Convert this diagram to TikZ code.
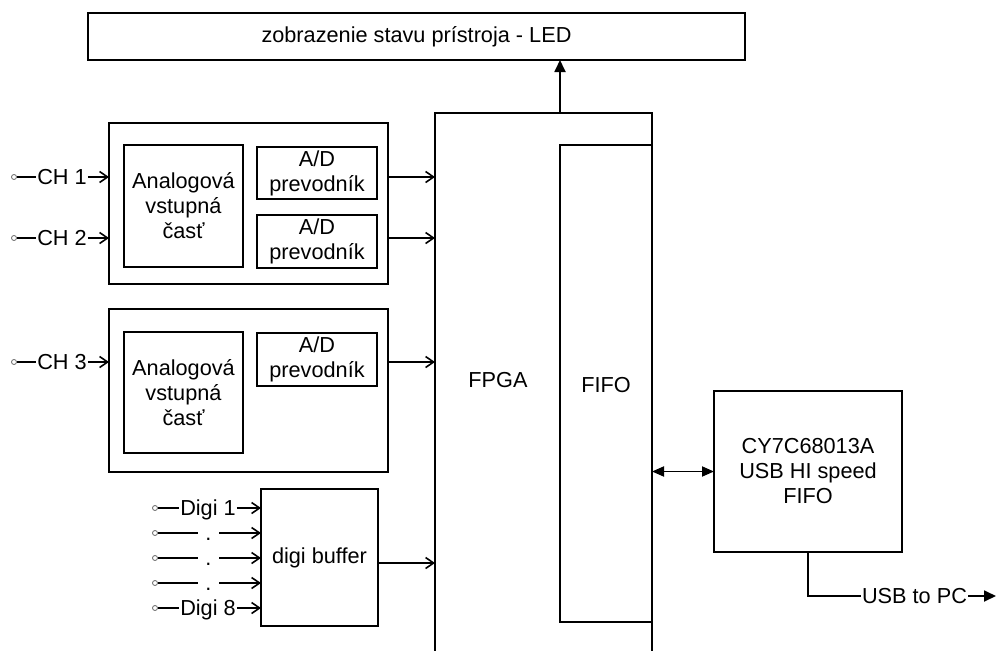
\documentclass[tikz,border=0pt]{standalone}
\usepackage{fontspec}
\setmainfont{Liberation Sans}
\usepackage{tikz}
\usetikzlibrary{arrows.meta, positioning}
\newcommand{\diafont}{\fontsize{21.7}{25}\selectfont}
\tikzset{
  box/.style={rectangle, draw=black, line width=2pt, inner sep=0pt,
    outer sep=0pt, align=center, font=\diafont},
  term/.style={circle, draw=black!60, fill=white, line width=0.8pt,
    inner sep=0pt, minimum size=5pt},
  txt/.style={inner sep=1pt, font=\diafont, text height=15.5pt, text depth=0pt},
  wire/.style={line width=1.6pt},
  inarrow/.style={-{Straight Barb[length=8pt,width=11pt]}, line width=1.6pt},
  outarrow/.style={-{Triangle[length=12pt,width=11pt]}, line width=1.8pt},
  biarrow/.style={{Triangle[length=12pt,width=10pt]}-{Triangle[length=12pt,width=10pt]}, line width=1.8pt}
}

\begin{document}
\begin{tikzpicture}[x=1pt, y=-1pt]
  \useasboundingbox (0,0) rectangle (997,651);

  % LED display on top
  \node[box, minimum width=657pt, minimum height=47pt] (led) at (416.5,36.5) {zobrazenie stavu prístroja - LED};

  % FPGA with FIFO inside (open at the bottom)
  \node[minimum width=217pt, minimum height=538pt, inner sep=0pt, outer sep=0pt] (fpga) at (543.5,382) {};
  \draw[line width=2pt] (fpga.south west) -- (fpga.north west) -- (fpga.north east) -- (fpga.south east);
  \node[font=\diafont] (fpgalbl) at (498,380) {FPGA};
  \node[box, minimum width=92pt, minimum height=477pt] (fifo) at (606,383.5) {};
  \node[font=\diafont] (fifolbl) at (606,385) {FIFO};

  % first analog group (CH 1, CH 2)
  \node[box, minimum width=279pt, minimum height=161pt] (grp1) at (248.5,203.5) {};
  \node[box, minimum width=119pt, minimum height=122pt] (ana1) at (183.5,206) {Analogová\\vstupná\\časť};
  \node[box, minimum width=120pt, minimum height=52pt] (ad1) at (317,173) {A/D\\prevodník};
  \node[box, minimum width=120pt, minimum height=53pt] (ad2) at (317,241.5) {A/D\\prevodník};

  % second analog group (CH 3)
  \node[box, minimum width=279pt, minimum height=163pt] (grp2) at (248.5,390.5) {};
  \node[box, minimum width=119pt, minimum height=121pt] (ana2) at (183.5,392.5) {Analogová\\vstupná\\časť};
  \node[box, minimum width=120pt, minimum height=53pt] (ad3) at (317,359.5) {A/D\\prevodník};

  % digital buffer
  \node[box, minimum width=117pt, minimum height=137pt] (buf) at (319.5,557.5) {digi buffer};

  % USB controller
  \node[box, minimum width=188pt, minimum height=161pt] (usb) at (808,471.5) {CY7C68013A\\USB HI speed\\FIFO};

  % analog inputs
  \node[term] (t1) at (14,177) {};
  \node[term] (t2) at (14,238) {};
  \node[term] (t3) at (14,362) {};
  \node[txt] (ch1) at (62,177) {CH 1};
  \node[txt] (ch2) at (62,238) {CH 2};
  \node[txt] (ch3) at (62,362) {CH 3};
  \draw[wire] (t1) -- (ch1.west);
  \draw[wire] (t2) -- (ch2.west);
  \draw[wire] (t3) -- (ch3.west);
  \draw[inarrow] (ch1.east) -- (ch1.east -| grp1.west);
  \draw[inarrow] (ch2.east) -- (ch2.east -| grp1.west);
  \draw[inarrow] (ch3.east) -- (ch3.east -| grp2.west);

  % digital inputs
  \node[term] (d1) at (155,508) {};
  \node[term] (d2) at (155,533) {};
  \node[term] (d3) at (155,558) {};
  \node[term] (d4) at (155,583) {};
  \node[term] (d5) at (155,608) {};
  \node[txt] (dg1) at (208,508) {Digi 1};
  \node[txt, minimum width=21pt] (dg2) at (208.5,533) {.};
  \node[txt, minimum width=21pt] (dg3) at (208.5,558) {.};
  \node[txt, minimum width=21pt] (dg4) at (208.5,583) {.};
  \node[txt] (dg5) at (208,608) {Digi 8};
  \draw[wire] (d1) -- (dg1.west);
  \draw[wire] (d2) -- (dg2.west);
  \draw[wire] (d3) -- (dg3.west);
  \draw[wire] (d4) -- (dg4.west);
  \draw[wire] (d5) -- (dg5.west);
  \draw[inarrow] (dg1.east) -- (dg1.east -| buf.west);
  \draw[inarrow] (dg2.east) -- (dg2.east -| buf.west);
  \draw[inarrow] (dg3.east) -- (dg3.east -| buf.west);
  \draw[inarrow] (dg4.east) -- (dg4.east -| buf.west);
  \draw[inarrow] (dg5.east) -- (dg5.east -| buf.west);

  % into the FPGA
  \draw[inarrow] (ch1.east -| grp1.east) -- (ch1.east -| fpga.west);
  \draw[inarrow] (ch2.east -| grp1.east) -- (ch2.east -| fpga.west);
  \draw[inarrow] (ch3.east -| grp2.east) -- (ch3.east -| fpga.west);
  \coordinate (bufout) at ([yshift=-5.5pt]buf.east);
  \draw[inarrow] (bufout) -- (bufout -| fpga.west);

  % FPGA to LED, FIFO to USB, USB to PC
  \draw[outarrow] (fifo.west |- fpga.north) -- (fifo.west |- led.south);
  \draw[biarrow] (fpga.east |- usb.west) -- (usb.west);
  \node[txt] (pc) at (914.5,596) {USB to PC};
  \coordinate (pcend) at (996,596);
  \draw[wire] (usb.south) |- (pc.west);
  \draw[outarrow] (pc.east) -- (pcend);
\end{tikzpicture}
\end{document}
